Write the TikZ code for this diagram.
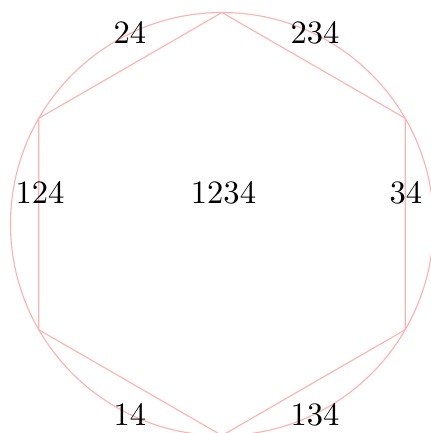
\documentclass[tikz,border=0pt]{standalone}
\begin{document}
\begin{tikzpicture}[x=0.30675pt,y=-0.30675pt,
  edge/.style={draw=red!30,line width=0.35pt},
  lbl/.style={anchor=base,inner sep=0pt,text=black}]
\useasboundingbox (0,0) rectangle (431,433);
\coordinate (c) at (222,224);
\draw[edge] (c) circle [radius=64.88pt];
\coordinate (t) at (222,12.5);
\coordinate (ur) at (405.2,118.25);
\coordinate (lr) at (405.2,329.75);
\coordinate (b) at (222,435.5);
\coordinate (ll) at (38.8,329.75);
\coordinate (ul) at (38.8,118.25);
\draw[edge] (t) -- (ur) -- (lr) -- (b) -- (ll) -- (ul) -- cycle;
\node[lbl] (n24) at (130,43) {24};
\node[lbl] (n234) at (315,43) {234};
\node[lbl] (n124) at (40,203) {124};
\node[lbl] (n1234) at (223.5,203) {1234};
\node[lbl] (n34) at (406,203) {34};
\node[lbl] (n14) at (130,425) {14};
\node[lbl] (n134) at (315,425) {134};
\end{tikzpicture}
\end{document}
